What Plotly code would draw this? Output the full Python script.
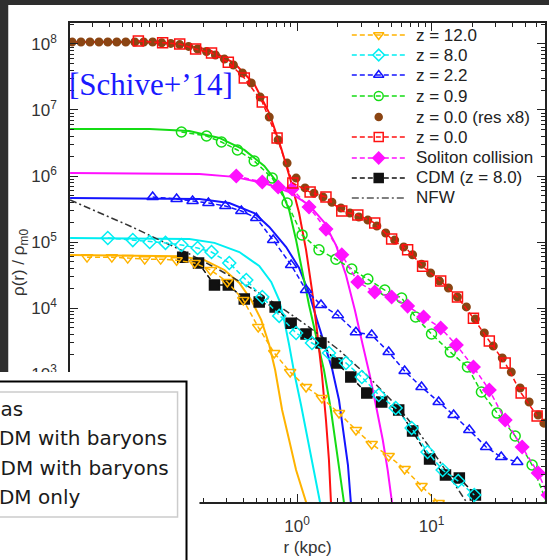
import plotly.graph_objects as go

# ---------------- data: r [kpc], rho(r)/rho_m0 ----------------
# z = 12.0
r12_fit = [0.0205, 0.134, 0.205, 0.288, 0.372, 0.456, 0.541, 0.621, 0.687, 0.774, 0.873, 0.983, 1.166, 1.27]
rho12_fit = [6.35e4, 6.1e4, 5.3e4, 3.77e4, 2.39e4, 1.32e4, 6.6e3, 2.75e3, 1.15e3, 285, 100, 35.1, 11.5, 6.1]
r12 = [0.0274, 0.0419, 0.055, 0.0736, 0.0967, 0.127, 0.173, 0.227, 0.303, 0.398, 0.514, 0.676, 0.888,
       1.166, 1.53, 2.05, 2.74, 3.59, 4.80, 6.31, 8.43, 11.3]
rho12 = [5.9e4, 5.9e4, 5.7e4, 5.5e4, 5.5e4, 5.3e4, 4.8e4, 3.77e4, 2.48e4, 1.32e4, 5.15e3, 2.08e3, 1.07e3,
         635, 433, 256, 142, 86.9, 57.3, 36.4, 20.1, 11.1]
# z = 8.0
r8_fit = [0.0205, 0.158, 0.243, 0.372, 0.523, 0.642, 0.736, 0.801, 0.873, 0.950, 1.07, 1.186, 1.314, 1.48, 1.585]
rho8_fit = [1.15e5, 1.11e5, 9.7e4, 7.05e4, 4.33e4, 2.48e4, 1.32e4, 6.6e3, 2.75e3, 1.07e3, 339, 119, 41.8, 11.5, 4.3]
r8 = [0.0391, 0.060, 0.0801, 0.105, 0.138, 0.182, 0.231, 0.313, 0.419, 0.551, 0.736, 0.983, 1.291, 1.726,
      2.31, 3.03, 4.05, 5.41, 7.11, 9.34, 12.1, 15.8, 20.8]
rho8 = [1.15e5, 1.07e5, 1.0e5, 9.7e4, 9.0e4, 8.1e4, 7.05e4, 4.8e4, 2.65e4, 1.47e4, 7.6e3, 4.18e3, 2.95e3,
        2.08e3, 1.47e3, 902, 481, 305, 152, 65.8, 35.1, 23.9, 14.7]
# z = 2.2
r22_fit = [0.0205, 0.188, 0.313, 0.480, 0.621, 0.829, 1.035, 1.227, 1.406, 1.61, 1.816, 2.05, 2.23, 2.39, 2.51, 2.64]
rho22_fit = [4.64e5, 4.49e5, 3.9e5, 2.75e5, 1.69e5, 8.4e4, 4.04e4, 1.69e4, 6.6e3, 2.75e3, 1.23e3, 404, 119,
             41.8, 11.5, 3.64]
r22 = [0.0843, 0.127, 0.167, 0.219, 0.293, 0.385, 0.497, 0.664, 0.903, 1.166, 1.506, 2.01, 2.74, 3.59,
       4.80, 6.31, 8.43, 11.3, 14.6, 19.1, 25.5, 33.0, 43.4]
rho22 = [4.8e5, 4.49e5, 4.18e5, 3.9e5, 3.51e5, 2.95e5, 2.31e5, 1.07e5, 4.49e4, 1.87e4, 1.11e4, 7.8e3, 4.3e3,
         3.9e3, 2.15e3, 1.11e3, 635, 377, 239, 142, 78.3, 55.2, 46.4]
# z = 0.9
r09_fit = [0.0205, 0.0801, 0.158, 0.264, 0.405, 0.570, 0.736, 0.873, 0.983, 1.089, 1.227, 1.406, 1.585,
           1.786, 1.978, 2.23, 2.43]
rho09_fit = [5.15e6, 5.15e6, 4.81e6, 3.77e6, 2.48e6, 1.42e6, 7.3e5, 3.05e5, 1.07e5, 3.77e4, 1.11e4, 3.27e3,
             1.15e3, 285, 70.5, 11.5, 2.57]
r09 = [0.138, 0.212, 0.274, 0.360, 0.480, 0.653, 0.843, 1.089, 1.455, 1.945, 2.55, 3.36, 4.49, 5.99, 7.61,
       10.0, 13.8, 18.5, 23.5, 30.8, 41.9, 56.0, 73.6]
rho09 = [4.64e6, 4.04e6, 3.27e6, 2.48e6, 1.69e6, 9.3e5, 3.9e5, 1.28e5, 7.6e4, 5.5e4, 3.9e4, 2.75e4, 1.87e4,
         1.42e4, 7.3e3, 4.04e3, 2.15e3, 1.28e3, 533, 256, 115, 41.8, 10]
# z = 0.0 (res x8)
r_hr = [0.0212, 0.0247, 0.0288, 0.0336, 0.0391, 0.0456, 0.0532, 0.0621, 0.0723, 0.0843, 0.0984, 0.115, 0.134,
        0.156, 0.182, 0.212, 0.247, 0.288, 0.336, 0.392, 0.456, 0.532, 0.621, 0.723, 0.843, 0.984, 1.146,
        1.336, 1.558, 1.816, 2.118, 2.47, 2.88, 3.36, 3.92, 4.56, 5.32, 6.21, 7.23, 8.43, 9.84, 11.46, 13.36,
        15.58, 18.16, 21.18, 24.7, 28.8, 33.6, 39.2, 45.6, 53.2, 62.1, 68.5]
rho_hr = [1.07e8, 1.07e8, 1.07e8, 1.07e8, 1.07e8, 1.07e8, 1.07e8, 1.07e8, 1.07e8, 1.07e8, 1.04e8, 1.02e8,
          9.8e7, 9.2e7, 8.4e7, 7.7e7, 6.8e7, 5.9e7, 4.8e7, 3.64e7, 2.56e7, 1.57e7, 7.8e6, 3.51e6, 1.57e6,
          9.3e5, 6.6e5, 5.5e5, 4.8e5, 4.0e5, 3.27e5, 2.75e5, 2.39e5, 2.15e5, 1.75e5, 1.37e5, 1.07e5, 8.4e4,
          6.4e4, 4.6e4, 3.39e4, 2.56e4, 2.01e4, 1.47e4, 1.04e4, 6.8e3, 4.2e3, 2.65e3, 1.75e3, 1.07e3, 614,
          377, 239, 180]
# z = 0.0
r00_fit = [0.0205, 0.0676, 0.134, 0.223, 0.341, 0.480, 0.621, 0.761, 0.903, 1.035, 1.166, 1.291, 1.406,
           1.532, 1.640, 1.726, 1.786, 1.848]
rho00_fit = [1.07e8, 1.07e8, 1.0e8, 8.1e7, 5.15e7, 2.48e7, 9.0e6, 2.65e6, 8.1e5, 2.75e5, 7.6e4, 1.87e4,
             4.6e3, 966, 201, 49.8, 11.5, 3.05]
r00 = [0.066, 0.100, 0.134, 0.176, 0.231, 0.308, 0.405, 0.551, 0.71, 0.93, 1.25, 1.64, 2.15, 2.83, 3.78,
       5.05, 6.64, 8.58, 11.7, 15.6, 20.5, 26.9, 35.3, 46.4, 61.0]
rho00 = [1.11e8, 1.04e8, 1.0e8, 8.4e7, 7.3e7, 5.3e7, 3.05e7, 1.32e7, 3.77e6, 7.8e5, 5.7e5, 4.8e5, 2.95e5,
         2.56e5, 1.94e5, 1.11e5, 7.6e4, 4.3e4, 2.56e4, 1.47e4, 7.0e3, 3.16e3, 1.47e3, 515, 231]
# soliton collision
r_sol_fit = [0.0205, 0.188, 0.341, 0.570, 0.873, 1.227, 1.585, 1.945, 2.31, 2.69, 3.08, 3.47, 3.92, 4.34,
             4.72, 5.05, 5.41]
rho_sol_fit = [1.11e6, 1.07e6, 9.7e5, 7.8e5, 5.7e5, 3.64e5, 2.01e5, 9.0e4, 3.16e4, 9.3e3, 2.75e3, 966, 285,
               100, 35.1, 11.5, 4.3]
r_sol = [0.353, 0.551, 0.723, 0.918, 1.227, 1.64, 2.15, 2.83, 3.78, 5.05, 6.64, 8.73, 11.7, 15.3, 20.5,
         26.9, 35.3, 47.2, 62.1, 73.6]
rho_sol = [1.0e6, 8.1e5, 6.8e5, 6.35e5, 3.39e5, 1.57e5, 6.4e4, 2.48e4, 1.75e4, 1.47e4, 1.07e4, 7.3e3,
           4.98e3, 2.75e3, 1.28e3, 573, 201, 78.3, 31.6, 14.7]
# CDM (z = 8.0)
r_cdm = [0.141, 0.185, 0.243, 0.308, 0.405, 0.523, 0.687, 0.903, 1.166, 1.506, 1.98, 2.51, 3.30, 4.26,
         5.70, 7.23, 9.67, 12.7, 16.1, 21.2]
rho_cdm = [5.9e4, 4.8e4, 2.23e4, 2.23e4, 1.37e4, 1.23e4, 1.04e4, 5.9e3, 4.04e3, 2.95e3, 1.47e3, 902, 515,
           377, 285, 137, 51.5, 29.5, 26.6, 14.7]
# NFW
r_nfw = [0.0205, 0.0341, 0.057, 0.095, 0.158, 0.264, 0.441, 0.736, 1.227, 2.05, 3.41, 5.70, 8.01, 11.3,
         14.6, 18.2, 22.3]
rho_nfw = [4.33e5, 2.75e5, 1.75e5, 1.07e5, 6.6e4, 3.77e4, 2.08e4, 1.07e4, 5.15e3, 2.31e3, 902, 305, 132,
           49.8, 22.3, 11.5, 6.1]

legend_labels = ["z = 12.0", "z = 8.0", "z = 2.2", "z = 0.9", "z = 0.0 (res x8)", "z = 0.0",
                 "Soliton collision", "CDM (z = 8.0)", "NFW"]
overlay_labels = ["Gas", "CDM with baryons", "SIDM with baryons", "CDM only"]
x_tickvals = [1, 10]
x_ticktext = ["10<sup>0</sup>", "10<sup>1</sup>"]
y_tickvals = [1e3, 1e4, 1e5, 1e6, 1e7, 1e8]
y_ticktext = ["10<sup>3</sup>", "10<sup>4</sup>", "10<sup>5</sup>", "10<sup>6</sup>", "10<sup>7</sup>",
              "10<sup>8</sup>"]

# ---------------- styles ----------------
C_Y, C_C, C_B, C_G = "#FFB300", "#00EEF2", "#1414FF", "#14DC14"
C_BR, C_R, C_M, C_K = "#8B4513", "#FF1010", "#FF10FF", "#111111"
DASH = "5px,3px"

W, H = 549, 560
ML, MR, MT, MB = 70, 2, 23, 58
PW, PH = W - ML - MR, H - MT - MB


def px(x):
    return (x - ML) / PW


def py(y):
    return (H - MB - y) / PH


fig = go.Figure()


def fit(r, rho, c):
    fig.add_trace(go.Scatter(x=r, y=rho, mode="lines", line=dict(color=c, width=2), hoverinfo="skip"))


def data(r, rho, c, sym, size=9, dash=DASH, mode="lines+markers"):
    fig.add_trace(go.Scatter(x=r, y=rho, mode=mode, line=dict(color=c, width=1.5, dash=dash),
                             marker=dict(symbol=sym, size=size, color=c, line=dict(color=c, width=1.5))))


fit(r12_fit, rho12_fit, C_Y)
fit(r8_fit, rho8_fit, C_C)
fit(r22_fit, rho22_fit, C_B)
fit(r09_fit, rho09_fit, C_G)
fit(r00_fit, rho00_fit, C_R)
fit(r_sol_fit, rho_sol_fit, C_M)
fig.add_trace(go.Scatter(x=r_nfw, y=rho_nfw, mode="lines",
                         line=dict(color="#333333", width=1.5, dash="7px,3px,2px,3px")))
data(r_cdm, rho_cdm, C_K, "square", size=10)
data(r12, rho12, C_Y, "triangle-down-open", size=10)
data(r8, rho8, C_C, "diamond-open", size=10)
data(r22, rho22, C_B, "triangle-up-open", size=10)
data(r09, rho09, C_G, "circle-open", size=10)
data(r_sol, rho_sol, C_M, "diamond", size=10)
data(r_hr, rho_hr, C_BR, "circle", size=7.5, mode="markers")
data(r00, rho00, C_R, "square-open", size=10)

# ---------------- in-plot key (gnuplot style) ----------------
key_style = [(C_Y, "triangle-down-open", DASH), (C_C, "diamond-open", DASH), (C_B, "triangle-up-open", DASH),
             (C_G, "circle-open", DASH), (C_BR, "circle", None), (C_R, "square-open", DASH),
             (C_M, "diamond", DASH), (C_K, "square", DASH), ("#555555", None, "7px,3px,2px,3px")]
key_rows = [35, 55, 75, 96, 117, 137, 158, 178, 198]
annotations = []
for (c, sym, dash), row, lab in zip(key_style, key_rows, legend_labels):
    yy = py(row)
    if dash is not None:
        fig.add_trace(go.Scatter(x=[px(353), px(407)], y=[yy, yy], xaxis="x2", yaxis="y2", mode="lines",
                                 line=dict(color=c, width=1.5, dash=dash), hoverinfo="skip"))
    if sym is not None:
        fig.add_trace(go.Scatter(x=[px(380)], y=[yy], xaxis="x2", yaxis="y2", mode="markers",
                                 marker=dict(symbol=sym, size=9 if sym != "circle" else 7, color=c,
                                             line=dict(color=c, width=1.5)),
                                 hoverinfo="skip"))
    annotations.append(dict(x=px(415), y=yy, xref="paper", yref="paper", xanchor="left", yanchor="middle",
                            text=lab, showarrow=False,
                            font=dict(family="Liberation Sans, Arial", size=17, color="#222222")))

annotations.append(dict(x=px(151), y=py(85), xref="paper", yref="paper", xanchor="center", yanchor="middle",
                        text="[Schive+’14]", showarrow=False,
                        font=dict(family="Liberation Serif, Times New Roman", size=31, color="#1a1aff")))

for lab, row, x0 in zip(overlay_labels, [409, 438, 468, 497], [-17, -17, -20, -17]):
    annotations.append(dict(x=px(x0), y=py(row), xref="paper", yref="paper", xanchor="left",
                            yanchor="middle", text=lab, showarrow=False,
                            font=dict(family="DejaVu Sans", size=20, color="#1a1a1a")))

shapes = [
    dict(type="rect", xref="paper", yref="paper", x0=px(-5), x1=px(560), y0=py(5), y1=py(-5),
         fillcolor="#2e2e2e", line=dict(width=0), layer="below"),
    dict(type="rect", xref="paper", yref="paper", x0=px(-5), x1=px(8), y0=py(372), y1=py(-5),
         fillcolor="#2e2e2e", line=dict(width=0), layer="below"),
    dict(type="rect", xref="paper", yref="paper", x0=px(-5), x1=px(200), y0=py(575), y1=py(372),
         fillcolor="white", line=dict(width=0), layer="above"),
    dict(type="rect", xref="paper", yref="paper", x0=px(-5), x1=px(187), y0=py(575), y1=py(381.5),
         fillcolor="white", line=dict(color="black", width=2), layer="above"),
    dict(type="rect", xref="paper", yref="paper", x0=px(-10), x1=px(178), y0=py(517), y1=py(392),
         fillcolor="white", line=dict(color="#cccccc", width=1.5), layer="above"),
]

axis_common = dict(type="log", showgrid=False, zeroline=False, showline=True, linecolor="#222222",
                   linewidth=1.5, mirror="ticks", ticks="inside", ticklen=8, tickwidth=1.2,
                   tickcolor="#222222",
                   tickfont=dict(family="Liberation Sans, Arial", size=17, color="#333333"),
                   minor=dict(ticks="inside", ticklen=4, tickwidth=1, tickcolor="#222222", dtick="D1",
                              showgrid=False))

fig.update_layout(
    width=W, height=H, margin=dict(l=ML, r=MR, t=MT, b=MB, pad=0),
    paper_bgcolor="white", plot_bgcolor="white", showlegend=False,
    xaxis=dict(axis_common, range=[-1.689, 1.844], tickmode="array", tickvals=x_tickvals,
               ticktext=x_ticktext, ticklabelstandoff=8,
               title=dict(text="r (kpc)", standoff=6,
                          font=dict(family="Liberation Sans, Arial", size=17, color="#333333"))),
    yaxis=dict(axis_common, range=[1.061, 8.318], tickmode="array", tickvals=y_tickvals,
               ticktext=y_ticktext, ticklabelstandoff=8,
               title=dict(text="ρ(r) / ρ<sub>m0</sub>", standoff=2,
                          font=dict(family="Liberation Sans, Arial", size=17, color="#333333"))),
    xaxis2=dict(overlaying="x", range=[0, 1], visible=False),
    yaxis2=dict(overlaying="y", range=[0, 1], visible=False),
    annotations=annotations, shapes=shapes,
)

fig.write_html("out.html", config={"displayModeBar": False},
               post_script="document.body.style.margin='0';")
